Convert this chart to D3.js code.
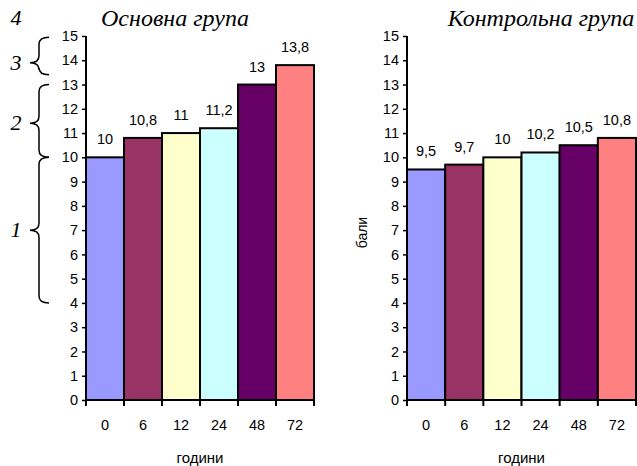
<!DOCTYPE html>
<html>
<head>
<meta charset="utf-8">
<script src="https://cdn.jsdelivr.net/npm/d3@7"></script>
<style>
  html, body { margin: 0; padding: 0; background: #fff; }
  svg { display: block; }
  text { font-family: "Liberation Sans", Arial, sans-serif; fill: #000; }
  .title, .level { font-family: "Liberation Serif", "Times New Roman", serif; font-style: italic; }
</style>
</head>
<body>
<script>
// Time points (hours) shown on the x axis
const hours = ["0", "6", "12", "24", "48", "72"];
// Mean scores per time point
const mainValues = [10, 10.8, 11, 11.2, 13, 13.8];
const controlValues = [9.5, 9.7, 10, 10.2, 10.5, 10.8];
// Bar fill per time point
const barColors = ["#9999FF", "#993366", "#FFFFCC", "#CCFFFF", "#660066", "#FF8080"];
// Score levels marked with braces beside the first panel
const levelLabels = ["1", "2", "3", "4"];
const levelFrom = [4, 10, 13.4, null];
const levelTo = [10, 13, 14.95, null];
const levelMid = [7.0, 11.4, 13.9, 15.75];

const panelTitles = ["Основна група", "Контрольна група"];
const xTitle = "години";
const yTitle = "бали";

const W = 637, H = 466;
const NUM = 14.5; // numeric label size
const svg = d3.select("body").append("svg").attr("width", W).attr("height", H);

const locale = d3.formatLocale({ decimal: ",", thousands: " ", grouping: [3], currency: ["", ""] });
const fmt = locale.format("");

const y = d3.scaleLinear().domain([0, 15]).range([400, 36]);

function panel(values, x0, x1, title, titleX, showYTitle) {
  const x = d3.scaleBand().domain(hours).range([x0, x1]).padding(0);
  const g = svg.append("g");

  // bars
  g.selectAll("rect.bar").data(values).join("rect")
    .attr("class", "bar")
    .attr("x", (d, i) => x(hours[i]))
    .attr("y", d => y(d))
    .attr("width", x.bandwidth())
    .attr("height", d => y(0) - y(d))
    .attr("fill", (d, i) => barColors[i])
    .attr("stroke", "#000")
    .attr("stroke-width", 2);

  // value labels
  g.selectAll("text.val").data(values).join("text")
    .attr("class", "val")
    .attr("x", (d, i) => x(hours[i]) + x.bandwidth() / 2)
    .attr("y", d => y(d) - 13)
    .attr("text-anchor", "middle")
    .attr("font-size", NUM)
    .text(d => fmt(d));

  // y axis
  const ya = g.append("g").attr("transform", `translate(${x0},0)`)
    .call(d3.axisLeft(y).ticks(15).tickSize(4).tickPadding(4).tickFormat(d3.format("d")));
  ya.selectAll("text").attr("font-size", NUM).attr("font-family", "Liberation Sans, Arial, sans-serif").attr("fill", "#000");
  ya.selectAll("line").attr("stroke", "#000").attr("stroke-width", 1.5);
  ya.select(".domain").attr("stroke", "#000").attr("stroke-width", 2).attr("d", `M0,${y(15)}V${y(0)}`);

  // x axis: category labels centred in bands, ticks at band edges
  const xa = g.append("g").attr("transform", `translate(0,${y(0)})`)
    .call(d3.axisBottom(x).tickSize(0).tickPadding(20));
  xa.selectAll("text").attr("font-size", NUM).attr("font-family", "Liberation Sans, Arial, sans-serif").attr("fill", "#000");
  xa.select(".domain").attr("stroke", "#000").attr("stroke-width", 2).attr("d", `M${x0},0H${x1}`);
  const edges = hours.map(h => x(h)).concat([x1]);
  xa.selectAll("line.edge").data(edges).join("line")
    .attr("class", "edge")
    .attr("x1", d => d).attr("x2", d => d)
    .attr("y1", 0).attr("y2", 6)
    .attr("stroke", "#000").attr("stroke-width", 2);

  // axis titles
  g.append("text").attr("x", (x0 + x1) / 2).attr("y", 463)
    .attr("text-anchor", "middle").attr("font-size", 15).text(xTitle);
  if (showYTitle) {
    g.append("text")
      .attr("transform", `translate(367,${y(6.9)}) rotate(-90)`)
      .attr("text-anchor", "middle").attr("font-size", 14).text(yTitle);
  }

  // panel title
  g.append("text").attr("class", "title")
    .attr("x", titleX).attr("y", 26)
    .attr("text-anchor", "middle").attr("font-size", 24).text(title);
}

panel(mainValues, 86, 314, panelTitles[0], 175, false);
panel(controlValues, 407, 636, panelTitles[1], 541, true);

// level braces
function bracePath(yTop, yBot, yMid) {
  const ex = 49, sx = 39, tx = 30, r = 7;
  return `M${ex},${yTop} Q${sx},${yTop} ${sx},${yTop + r} L${sx},${yMid - r} Q${sx},${yMid} ${tx},${yMid}` +
         ` Q${sx},${yMid} ${sx},${yMid + r} L${sx},${yBot - r} Q${sx},${yBot} ${ex},${yBot}`;
}
const lv = svg.append("g");
levelLabels.forEach((lab, i) => {
  if (levelFrom[i] !== null) {
    lv.append("path")
      .attr("d", bracePath(y(levelTo[i]), y(levelFrom[i]), y(levelMid[i])))
      .attr("fill", "none").attr("stroke", "#000").attr("stroke-width", 1.5);
  }
  lv.append("text").attr("class", "level")
    .attr("x", 16).attr("y", y(levelMid[i]) + 7)
    .attr("text-anchor", "middle").attr("font-size", 22).text(lab);
});
</script>
</body>
</html>
